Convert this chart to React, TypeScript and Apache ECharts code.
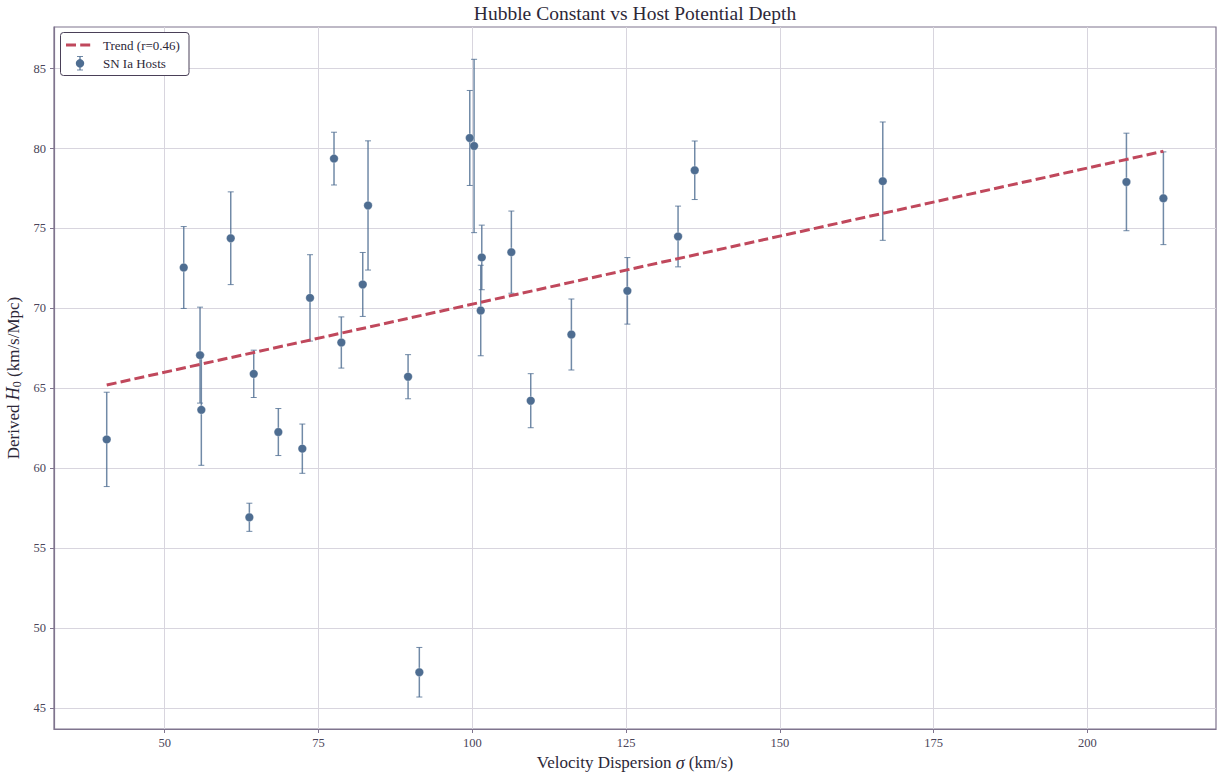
import React, { useEffect, useRef } from "react";
import * as echarts from "echarts";

const sigma = [40.57, 53.09, 55.74, 55.95, 60.73, 63.76, 64.47, 68.47, 72.37, 73.62, 77.52, 78.71, 82.19, 83.05, 89.56, 91.39, 99.59, 100.29, 101.37, 101.54, 106.35, 109.5, 116.11, 125.21, 133.45, 136.16, 166.73, 206.34, 212.35];
const h0 = [61.81, 72.56, 67.08, 63.66, 74.39, 56.94, 65.91, 62.27, 61.23, 70.66, 79.37, 67.87, 71.5, 76.44, 65.73, 47.25, 80.66, 80.16, 69.87, 73.19, 73.52, 64.23, 68.37, 71.1, 74.5, 78.64, 77.96, 77.91, 76.89];
const h0Err = [2.95, 2.56, 3.0, 3.47, 2.9, 0.88, 1.48, 1.47, 1.54, 2.7, 1.65, 1.6, 2.0, 4.04, 1.38, 1.55, 2.97, 5.42, 2.83, 2.02, 2.57, 1.69, 2.22, 2.08, 1.9, 1.83, 3.7, 3.05, 2.9];
const trendX = [40.57, 212.35];
const trendY = [65.21, 79.83];
const xTicks = [50, 75, 100, 125, 150, 175, 200];
const yTicks = [45, 50, 55, 60, 65, 70, 75, 80, 85];

const FONT = "'Liberation Serif', 'Times New Roman', 'DejaVu Serif', serif";
const POINT = "#4e6d91";
const TREND = "#c0485c";
const SPINE = "#7f748e";
const GRID = "#d8d5de";
const TICKTXT = "#4a4458";
const DARK = "#2d2838";
const LZ = 200;

export default function App() {
  const ref = useRef<HTMLDivElement>(null);
  useEffect(() => {
    if (!ref.current) return;
    const chart = echarts.init(ref.current, null, { renderer: "svg" });
    const errData = sigma.map((x, i) => [x, h0[i] - h0Err[i], h0[i] + h0Err[i]]);
    const pts = sigma.map((x, i) => [x, h0[i]]);
    const trend = trendX.map((x, i) => [x, trendY[i]]);
    chart.setOption({
      animation: false,
      backgroundColor: "#ffffff",
      grid: {
        left: 54,
        top: 27,
        width: 1162,
        height: 702,
        outerBoundsMode: "none",
        containLabel: false,
        show: true,
        borderColor: SPINE,
        borderWidth: 1.2,
        backgroundColor: "transparent",
      },
      xAxis: {
        type: "value",
        min: 32.0,
        max: 220.9,
        name: "{a|Velocity Dispersion }{i|σ}{a| (km/s)}",
        nameLocation: "middle",
        nameGap: 24,
        nameTextStyle: {
          rich: {
            a: { fontFamily: FONT, fontSize: 17, color: DARK },
            i: { fontFamily: FONT, fontSize: 18, fontStyle: "italic", color: DARK },
          },
        },
        axisLine: { show: true, lineStyle: { color: SPINE, width: 1.2 } },
        axisTick: { show: true, length: 4, lineStyle: { color: SPINE, width: 1 }, customValues: xTicks },
        axisLabel: { customValues: xTicks, margin: 7, fontFamily: FONT, fontSize: 12.5, color: TICKTXT },
        splitLine: { show: true, lineStyle: { color: GRID, width: 1 } },
      },
      yAxis: {
        type: "value",
        min: 43.7,
        max: 87.6,
        name: "{a|Derived }{i|H}{s|0}{a| (km/s/Mpc)}",
        nameLocation: "middle",
        nameRotate: 90,
        nameGap: 22,
        nameTextStyle: {
          rich: {
            a: { fontFamily: FONT, fontSize: 17, color: DARK },
            i: { fontFamily: FONT, fontSize: 18, fontStyle: "italic", color: DARK },
            s: { fontFamily: FONT, fontSize: 12, color: DARK, padding: [7, 0, 0, 0] },
          },
        },
        axisLine: { show: true, lineStyle: { color: SPINE, width: 1.2 } },
        axisTick: { show: true, length: 4, lineStyle: { color: SPINE, width: 1 }, customValues: yTicks },
        axisLabel: { customValues: yTicks, margin: 8, fontFamily: FONT, fontSize: 12.5, color: TICKTXT },
        splitLine: { show: true, lineStyle: { color: GRID, width: 1 } },
      },
      series: [
        {
          type: "custom",
          name: "errors",
          data: errData,
          encode: { x: 0, y: [1, 2] },
          z: 2,
          renderItem: (params: any, api: any) => {
            const x = api.value(0);
            const lo = api.coord([x, api.value(1)]);
            const hi = api.coord([x, api.value(2)]);
            const cap = 3;
            const style = { stroke: POINT, lineWidth: 1.5, opacity: 0.8 };
            return {
              type: "group",
              children: [
                { type: "line", shape: { x1: lo[0], y1: lo[1], x2: hi[0], y2: hi[1] }, style },
                { type: "line", shape: { x1: hi[0] - cap, y1: hi[1], x2: hi[0] + cap, y2: hi[1] }, style: { ...style, lineWidth: 1 } },
                { type: "line", shape: { x1: lo[0] - cap, y1: lo[1], x2: lo[0] + cap, y2: lo[1] }, style: { ...style, lineWidth: 1 } },
              ],
            };
          },
        },
        {
          type: "line",
          name: "Trend (r=0.46)",
          data: trend,
          symbol: "none",
          z: 3,
          lineStyle: { color: TREND, width: 3, type: [10, 4.2] },
        },
        {
          type: "scatter",
          name: "SN Ia Hosts",
          data: pts,
          symbol: "circle",
          symbolSize: 8.5,
          z: 4,
          itemStyle: { color: POINT, borderColor: "rgba(255,255,255,0.6)", borderWidth: 0.5, opacity: 1 },
        },
      ],
      graphic: {
        elements: [
          {
            type: "text",
            x: 635,
            y: 13,
            z: LZ,
            style: {
              text: "Hubble Constant vs Host Potential Depth",
              font: `19.5px ${FONT}`,
              fill: DARK,
              textAlign: "center",
              textVerticalAlign: "middle",
            },
          },
          {
            type: "rect",
            z: LZ,
            shape: { x: 60.5, y: 32.5, width: 128.5, height: 43, r: 3 },
            style: { fill: "#ffffff", stroke: "#4a4058", lineWidth: 1 },
          },
          {
            type: "line",
            z: LZ + 1,
            shape: { x1: 66, y1: 45, x2: 94, y2: 45 },
            style: { stroke: TREND, lineWidth: 3, lineDash: [10, 4.2] },
          },
          {
            type: "line",
            z: LZ + 1,
            shape: { x1: 80, y1: 56.5, x2: 80, y2: 70 },
            style: { stroke: POINT, lineWidth: 1.5, opacity: 0.8 },
          },
          {
            type: "line",
            z: LZ + 1,
            shape: { x1: 77, y1: 56.5, x2: 83, y2: 56.5 },
            style: { stroke: POINT, lineWidth: 1, opacity: 0.8 },
          },
          {
            type: "line",
            z: LZ + 1,
            shape: { x1: 77, y1: 70, x2: 83, y2: 70 },
            style: { stroke: POINT, lineWidth: 1, opacity: 0.8 },
          },
          {
            type: "circle",
            z: LZ + 2,
            shape: { cx: 80, cy: 63.3, r: 4.2 },
            style: { fill: POINT },
          },
          {
            type: "text",
            z: LZ + 2,
            x: 103,
            y: 45,
            style: { text: "Trend (r=0.46)", font: `13px ${FONT}`, fill: DARK, textVerticalAlign: "middle" },
          },
          {
            type: "text",
            z: LZ + 2,
            x: 103,
            y: 63.5,
            style: { text: "SN Ia Hosts", font: `13px ${FONT}`, fill: DARK, textVerticalAlign: "middle" },
          },
        ],
      },
    });
    return () => chart.dispose();
  }, []);
  return (
    <div
      ref={ref}
      style={{ position: "fixed", left: 0, top: 0, width: 1219, height: 777, background: "#ffffff" }}
    />
  );
}
